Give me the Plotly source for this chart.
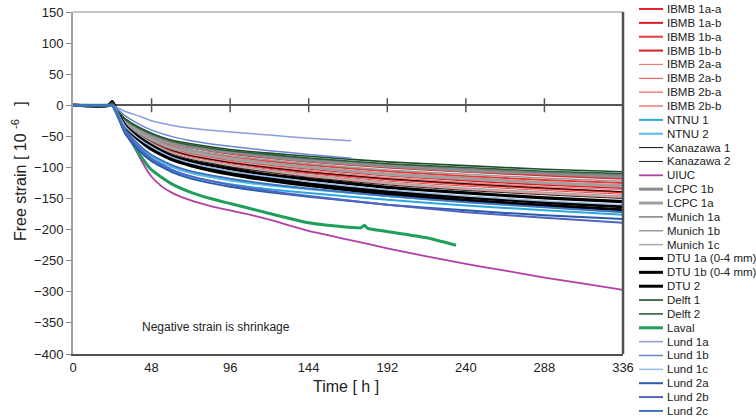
import plotly.graph_objects as go

# ---------------- data ----------------
HOURS = [0, 22, 24, 28, 32, 40, 48, 60, 72, 96, 120, 144, 192, 240, 288, 336]
HOURS_SHORT = [0, 22, 24, 28, 32, 40, 48, 60, 72, 96, 120, 144, 170]

IBMB_1A_A = [0, 0, 2, -12, -25, -39, -50, -61, -68, -78, -85, -91, -100, -107, -113, -118]
IBMB_1A_B = [0, 0, 2, -13, -28, -44, -56, -69, -77, -88, -96, -102, -113, -121, -128, -133]
IBMB_1B_A = [0, 0, 1, -13, -26, -41, -53, -65, -73, -83, -90, -96, -106, -114, -120, -125]
IBMB_1B_B = [0, 0, 2, -14, -29, -46, -59, -73, -81, -92, -101, -108, -119, -127, -134, -140]
IBMB_2A_A = [0, 0, 1, -13, -27, -42, -54, -67, -74, -84, -92, -99, -109, -116, -123, -128]
IBMB_2A_B = [0, 0, 1, -14, -30, -47, -60, -74, -83, -94, -103, -110, -122, -130, -137, -143]
IBMB_2B_A = [0, 0, 1, -14, -29, -45, -57, -71, -79, -90, -98, -105, -116, -124, -131, -136]
IBMB_2B_B = [0, 0, 1, -15, -31, -49, -62, -77, -86, -98, -107, -114, -126, -135, -142, -148]
NTNU_1 = [0, 0, 0, -22, -45, -70, -88, -105, -115, -127, -135, -141, -152, -161, -169, -176]
NTNU_2 = [0, 0, 0, -20, -42, -66, -83, -99, -109, -121, -129, -135, -146, -155, -163, -170]
KANAZAWA_1 = [0, 0, 5, -14, -29, -46, -58, -72, -81, -92, -100, -107, -118, -126, -133, -139]
KANAZAWA_2 = [0, 0, 6, -15, -32, -50, -63, -78, -87, -99, -108, -116, -128, -137, -144, -150]
LCPC_1B = [0, 0, 2, -12, -24, -38, -48, -60, -67, -76, -83, -89, -98, -105, -110, -115]
LCPC_1A = [0, 0, 3, -13, -27, -43, -55, -68, -75, -86, -94, -100, -111, -118, -125, -130]
MUNICH_1A = [0, 0, 5, -11, -24, -37, -47, -58, -65, -74, -81, -86, -95, -102, -108, -112]
MUNICH_1B = [0, 0, 5, -12, -26, -40, -51, -63, -71, -81, -88, -94, -104, -111, -117, -122]
MUNICH_1C = [0, 0, 4, -15, -31, -48, -61, -76, -85, -96, -105, -112, -124, -133, -140, -146]
DTU_1A = [0, 0, 5, -16, -33, -51, -65, -81, -90, -102, -112, -119, -132, -141, -149, -155]
DTU_1B = [0, 0, 4, -16, -34, -54, -68, -85, -95, -108, -117, -126, -139, -148, -156, -163]
DTU_2 = [0, 0, 6, -17, -35, -55, -71, -87, -97, -111, -121, -129, -143, -153, -161, -168]
DELFT_1 = [0, 0, 3, -11, -22, -35, -45, -56, -62, -71, -77, -82, -91, -97, -103, -107]
DELFT_2 = [0, 0, 4, -11, -23, -36, -46, -57, -64, -73, -79, -85, -94, -100, -106, -110]
LUND_1A = [0, 0, 0, -5, -10, -17, -25, -32, -37, -43, -48, -53, -57]
LUND_1B = [0, 0, 0, -8, -17, -30, -40, -50, -57, -66, -73, -79, -85]
LUND_1C = [0, 0, 0, -16, -34, -53, -67, -83, -93, -106, -115, -123, -136, -146, -154, -160]
LUND_2A = [0, 0, 0, -22, -46, -72, -90, -107, -118, -131, -140, -147, -160, -169, -177, -183]
LUND_2B = [0, 0, 0, -20, -43, -68, -86, -103, -114, -128, -138, -146, -160, -172, -181, -189]
LUND_2C = [0, 0, 0, -19, -40, -63, -80, -96, -106, -118, -127, -134, -146, -156, -164, -172]

UIUC_HOURS = [0, 22, 24, 28, 32, 36, 42, 48, 54, 60, 72, 84, 96, 108, 120, 144, 168, 192, 216, 240, 264, 288, 312, 336]
UIUC = [0, 0, 0, -18, -40, -60, -90, -115, -130, -140, -153, -162, -169, -176, -184, -202, -216, -230, -243, -255, -266, -277, -287, -297]

LAVAL_HOURS = [0, 22, 24, 28, 32, 36, 42, 48, 60, 72, 84, 96, 120, 144, 168, 176, 178, 180, 192, 216, 234]
LAVAL = [0, 0, 0, -20, -42, -60, -84, -104, -126, -140, -150, -158, -174, -189, -196, -197, -193, -198, -203, -213, -225]

AXIS_TICK_HOURS = [48, 96, 144, 192, 240, 288]
X_TICKS = [0, 48, 96, 144, 192, 240, 288, 336]
Y_TICKS = [150, 100, 50, 0, -50, -100, -150, -200, -250, -300, -350, -400]

SERIES = [
    ("IBMB 1a-a", HOURS, IBMB_1A_A, "#e8212b", 2.0),
    ("IBMB 1a-b", HOURS, IBMB_1A_B, "#e01b24", 2.0),
    ("IBMB 1b-a", HOURS, IBMB_1B_A, "#e83a3a", 2.0),
    ("IBMB 1b-b", HOURS, IBMB_1B_B, "#d81e1e", 2.0),
    ("IBMB 2a-a", HOURS, IBMB_2A_A, "#f07a7a", 1.2),
    ("IBMB 2a-b", HOURS, IBMB_2A_B, "#ee4444", 1.0),
    ("IBMB 2b-a", HOURS, IBMB_2B_A, "#f08080", 1.5),
    ("IBMB 2b-b", HOURS, IBMB_2B_B, "#f29a9a", 2.0),
    ("NTNU 1", HOURS, NTNU_1, "#2aa8e0", 2.0),
    ("NTNU 2", HOURS, NTNU_2, "#55bde8", 2.0),
    ("Kanazawa 1", HOURS, KANAZAWA_1, "#111111", 1.0),
    ("Kanazawa 2", HOURS, KANAZAWA_2, "#222222", 1.0),
    ("UIUC", UIUC_HOURS, UIUC, "#b23fa6", 1.8),
    ("LCPC 1b", HOURS, LCPC_1B, "#8c8c8c", 3.2),
    ("LCPC 1a", HOURS, LCPC_1A, "#a0a0a0", 3.2),
    ("Munich 1a", HOURS, MUNICH_1A, "#7f7f7f", 1.5),
    ("Munich 1b", HOURS, MUNICH_1B, "#999999", 1.5),
    ("Munich 1c", HOURS, MUNICH_1C, "#a8a8a8", 1.5),
    ("DTU 1a (0-4 mm)", HOURS, DTU_1A, "#000000", 3.2),
    ("DTU 1b (0-4 mm)", HOURS, DTU_1B, "#000000", 3.2),
    ("DTU 2", HOURS, DTU_2, "#000000", 3.2),
    ("Delft 1", HOURS, DELFT_1, "#1d4d2b", 1.6),
    ("Delft 2", HOURS, DELFT_2, "#2d5e3a", 1.6),
    ("Laval", LAVAL_HOURS, LAVAL, "#1f9e5c", 3.0),
    ("Lund 1a", HOURS_SHORT, LUND_1A, "#8a9ede", 1.5),
    ("Lund 1b", HOURS_SHORT, LUND_1B, "#6d84d4", 1.5),
    ("Lund 1c", HOURS, LUND_1C, "#9bbce6", 1.5),
    ("Lund 2a", HOURS, LUND_2A, "#2a5caa", 2.0),
    ("Lund 2b", HOURS, LUND_2B, "#5264c0", 2.0),
    ("Lund 2c", HOURS, LUND_2C, "#3f74c0", 2.0),
]

FONT = "Liberation Sans, Arial, Helvetica, sans-serif"

fig = go.Figure()
for name, xs, ys, color, width in SERIES:
    fig.add_trace(go.Scatter(
        x=xs, y=ys, mode="lines", name=name,
        line=dict(color=color, width=width, shape="spline", smoothing=0.5),
        showlegend=False, hoverinfo="name"))

# tick marks on the zero axis line
fig.add_trace(go.Scatter(
    x=AXIS_TICK_HOURS, y=[0] * len(AXIS_TICK_HOURS), mode="markers",
    marker=dict(symbol="line-ns", size=10, line=dict(color="#555555", width=1.5)),
    showlegend=False, hoverinfo="skip"))

# ---------------- layout ----------------
W, H = 756, 420
ML, MR, MT, MB = 73, 133, 12, 66
PW, PH = W - ML - MR, H - MT - MB
LEG_TOP, LEG_STEP = 9, 13.86


def px(xpage):
    return (xpage - ML) / PW


def py(ypage):
    return (MT + PH - ypage) / PH


shapes = [
    dict(type="line", xref="paper", yref="paper", x0=0, x1=1, y0=1, y1=1,
         line=dict(color="#b0b0b0", width=1.5)),
    dict(type="line", xref="paper", yref="paper", x0=1, x1=1, y0=0, y1=1,
         line=dict(color="#505050", width=2.5)),
]
annotations = [
    dict(text="Negative strain is shrinkage", x=41, y=-357, xref="x", yref="y",
         xanchor="left", yanchor="middle", showarrow=False,
         font=dict(family=FONT, size=12, color="#222222")),
    dict(text="Free strain [ 10\u00a0<sup>-6</sup>\u00a0\u00a0\u00a0]",
         x=px(19), y=py(171), xref="paper", yref="paper",
         textangle=-90, showarrow=False, xanchor="center", yanchor="middle",
         font=dict(family=FONT, size=16, color="#222222")),
    dict(text="Time [ h ]", x=px(346), y=py(386),
         xref="paper", yref="paper", showarrow=False, xanchor="center",
         yanchor="middle", font=dict(family=FONT, size=16, color="#222222")),
]

# compact legend drawn by hand (plotly's own legend rows are too tall)
for i, (name, xs, ys, color, width) in enumerate(SERIES):
    yp = py(LEG_TOP + i * LEG_STEP)
    shapes.append(dict(type="line", xref="paper", yref="paper",
                       x0=px(639), x1=px(663), y0=yp, y1=yp,
                       line=dict(color=color, width=min(width, 3.0))))
    annotations.append(dict(text=name, x=px(665), y=yp, xref="paper",
                            yref="paper", xanchor="left", yanchor="middle",
                            showarrow=False,
                            font=dict(family=FONT, size=11.5, color="#222222")))

fig.update_layout(
    width=W, height=H, autosize=False,
    margin=dict(l=ML, r=MR, t=MT, b=MB, pad=0, autoexpand=False),
    paper_bgcolor="white", plot_bgcolor="white",
    showlegend=False,
    font=dict(family=FONT, size=13, color="#222222"),
    shapes=shapes, annotations=annotations,
    xaxis=dict(range=[0, 336], tickvals=X_TICKS, ticks="", showgrid=False,
               zeroline=False, showline=True, linecolor="#505050", linewidth=2,
               automargin=False,
               tickfont=dict(size=13, color="#222222"), fixedrange=True),
    yaxis=dict(range=[-400, 150], tickvals=Y_TICKS, ticks="outside", ticklen=5,
               tickcolor="#888888", tickwidth=1, showgrid=False,
               zeroline=True, zerolinecolor="#555555", zerolinewidth=1.5,
               showline=True, linecolor="#a0a0a0", linewidth=2,
               automargin=False,
               tickfont=dict(size=13, color="#222222"), fixedrange=True),
)

fig.write_html("out.html",
               config={"displayModeBar": False, "responsive": False},
               post_script="document.body.style.margin='0';"
                           "document.body.style.overflow='hidden';")
